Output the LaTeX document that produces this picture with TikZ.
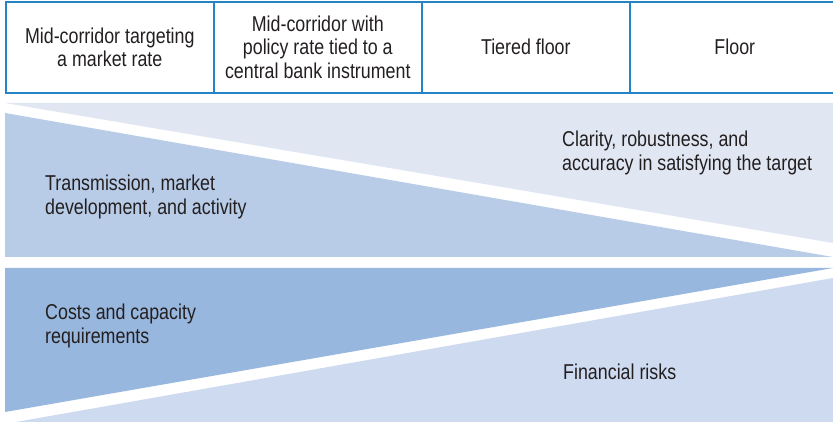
\documentclass[tikz,border=0pt]{standalone}
\usepackage{fontspec}
\setmainfont{Liberation Sans}[FakeStretch=0.83]
\usepackage{tikz}
\definecolor{rimblue}{HTML}{2484C6}
\definecolor{palefill}{HTML}{E0E7F3}
\definecolor{midfill}{HTML}{B8CCE8}
\definecolor{deepfill}{HTML}{98B7DE}
\definecolor{softfill}{HTML}{CEDAF0}
\definecolor{inktext}{HTML}{231F20}
\tikzset{cell/.style={draw=rimblue, line width=1.6pt, minimum width=208pt, minimum height=91pt,
    anchor=north west, align=center, inner sep=0pt, text=inktext},
  note/.style={anchor=west, align=left, inner sep=0pt, text=inktext}
}

\begin{document}
\begin{tikzpicture}[x=1pt,y=-1pt,font=\fontsize{21.5}{23.3}\selectfont]
                \useasboundingbox (0,0) rectangle (833,422);

                % Upper band
                \fill[palefill] (5,103) -- (833,103) -- (833,243) -- cycle;
                \fill[midfill] (5,113) -- (833,257) -- (5,257) -- cycle;

                % Lower band
                \fill[deepfill] (5,268) -- (833,268) -- (5,412) -- cycle;
                \fill[softfill] (16,422) -- (833,278) -- (833,422) -- cycle;

                % Header
                \node[cell] (corr) at (5,1) {Mid-corridor targeting\\a market rate};
                \node[cell] (tied) at (213,1) {Mid-corridor with\\policy rate tied to a\\central bank instrument};
                \node[cell] (tier) at (421,1) {Tiered floor};
                \node[cell, minimum width=210pt] (flr) at (629,1) {Floor};  % runs off the right edge

                % Labels
                \node[note] (trans) at (45,197) {Transmission, market\\development, and activity};
                \node[note] (clar) at (562,153) {Clarity, robustness, and\\accuracy in satisfying the target};
                \node[note] (cost) at (45,326) {Costs and capacity\\requirements};
                \node[note] (risk) at (563,372) {Financial risks};
            \end{tikzpicture}
\end{document}
